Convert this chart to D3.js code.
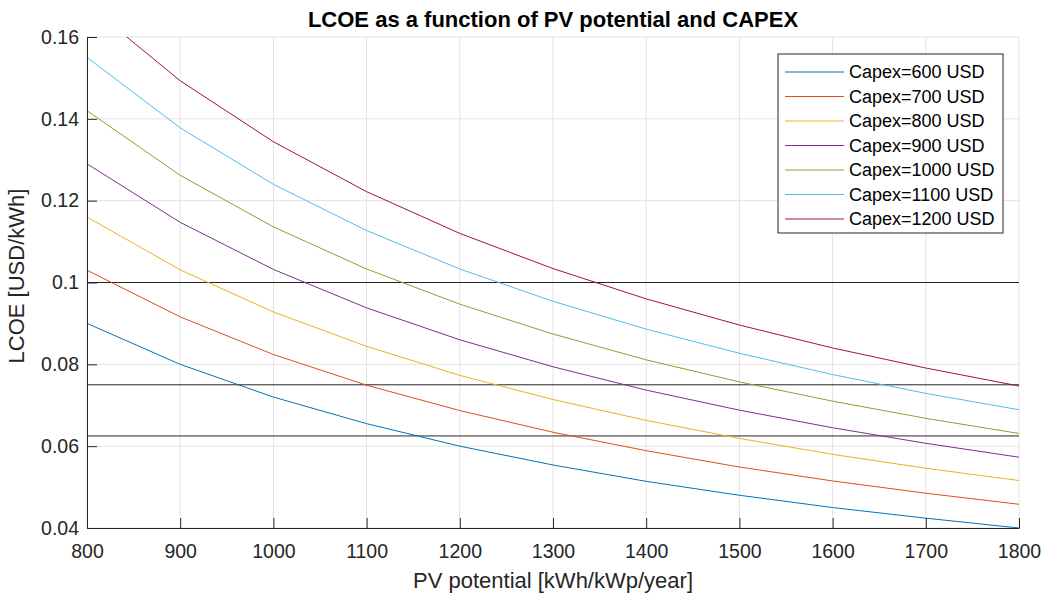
<!DOCTYPE html>
<html>
<head>
<meta charset="utf-8">
<script src="https://cdn.jsdelivr.net/npm/d3@7"></script>
<style>
  body { margin: 0; background: #fff; }
  text { font-family: "Liberation Sans", Arial, Helvetica, sans-serif; }
</style>
</head>
<body>
<div id="chart"></div>
<script>
// PV potential [kWh/kWp/year]
const pvPotential = [800, 900, 1000, 1100, 1200, 1300, 1400, 1500, 1600, 1700, 1800];

// LCOE [USD/kWh] per capex level
const capexLabels = ["Capex=600 USD", "Capex=700 USD", "Capex=800 USD", "Capex=900 USD",
                     "Capex=1000 USD", "Capex=1100 USD", "Capex=1200 USD"];
const lcoe600  = [0.0900, 0.0800, 0.0720, 0.0655, 0.0600, 0.0554, 0.0514, 0.0480, 0.0450, 0.0424, 0.0400];
const lcoe700  = [0.1030, 0.0916, 0.0824, 0.0749, 0.0687, 0.0634, 0.0589, 0.0549, 0.0515, 0.0485, 0.0458];
const lcoe800  = [0.1160, 0.1031, 0.0928, 0.0844, 0.0773, 0.0714, 0.0663, 0.0619, 0.0580, 0.0546, 0.0516];
const lcoe900  = [0.1290, 0.1147, 0.1032, 0.0938, 0.0860, 0.0794, 0.0737, 0.0688, 0.0645, 0.0607, 0.0573];
const lcoe1000 = [0.1420, 0.1262, 0.1136, 0.1033, 0.0947, 0.0874, 0.0811, 0.0757, 0.0710, 0.0668, 0.0631];
const lcoe1100 = [0.1550, 0.1378, 0.1240, 0.1127, 0.1033, 0.0954, 0.0886, 0.0827, 0.0775, 0.0729, 0.0689];
const lcoe1200 = [0.1680, 0.1493, 0.1344, 0.1222, 0.1120, 0.1034, 0.0960, 0.0896, 0.0840, 0.0791, 0.0747];

// reference levels drawn as black horizontal lines
const refLevels = [0.1, 0.075, 0.0625];

const xTicks = [800, 900, 1000, 1100, 1200, 1300, 1400, 1500, 1600, 1700, 1800];
const yTicks = [0.04, 0.06, 0.08, 0.1, 0.12, 0.14, 0.16];

const colors = ["#0072BD", "#D95319", "#EDB120", "#7E2F8E", "#77AC30", "#4DBEEE", "#A2142F"];

const series = [lcoe600, lcoe700, lcoe800, lcoe900, lcoe1000, lcoe1100, lcoe1200];

const W = 1045, H = 594;
const margin = {top: 37, right: 26, bottom: 66, left: 87};
const width = W - margin.left - margin.right;
const height = H - margin.top - margin.bottom;

const svg = d3.select("#chart").append("svg")
    .attr("width", W)
    .attr("height", H);

const g = svg.append("g")
    .attr("transform", "translate(" + margin.left + "," + margin.top + ")");

const xScale = d3.scaleLinear().domain([800, 1800]).range([0, width]);
const yScale = d3.scaleLinear().domain([0.04, 0.16]).range([height, 0]);

// grid
g.append("g").selectAll("line").data(xTicks).join("line")
    .attr("x1", d => xScale(d)).attr("x2", d => xScale(d))
    .attr("y1", 0).attr("y2", height)
    .attr("stroke", "#e3e3e3").attr("stroke-width", 1);
g.append("g").selectAll("line").data(yTicks).join("line")
    .attr("x1", 0).attr("x2", width)
    .attr("y1", d => yScale(d)).attr("y2", d => yScale(d))
    .attr("stroke", "#e3e3e3").attr("stroke-width", 1);

g.append("clipPath").attr("id", "clip")
  .append("rect").attr("width", width).attr("height", height);

const plot = g.append("g").attr("clip-path", "url(#clip)");

// reference lines
plot.selectAll(".ref").data(refLevels).join("line")
    .attr("class", "ref")
    .attr("x1", 0).attr("x2", width)
    .attr("y1", d => yScale(d)).attr("y2", d => yScale(d))
    .attr("stroke", "#262626").attr("stroke-width", 1);

const line = d3.line()
    .x((d, i) => xScale(pvPotential[i]))
    .y(d => yScale(d));

plot.selectAll(".series").data(series).join("path")
    .attr("class", "series")
    .attr("d", line)
    .attr("fill", "none")
    .attr("stroke", (d, i) => colors[i])
    .attr("stroke-width", 1);

// axes
const xAxis = d3.axisBottom(xScale).tickValues(xTicks).tickFormat(d3.format("d"))
    .tickSizeInner(-10).tickSizeOuter(0).tickPadding(12);
const yAxis = d3.axisLeft(yScale).tickValues(yTicks).tickFormat(d => d === 0.1 ? "0.1" : d3.format(".2f")(d))
    .tickSizeInner(-10).tickSizeOuter(0).tickPadding(8);

const xAxisDisplay = g.append("g")
    .attr("transform", `translate(0, ${height})`)
    .call(xAxis);
const yAxisDisplay = g.append("g").call(yAxis);

[xAxisDisplay, yAxisDisplay].forEach(a => {
  a.select(".domain").attr("stroke", "#262626");
  a.selectAll(".tick line").attr("stroke", "#262626");
  a.selectAll(".tick text").attr("fill", "#262626")
    .style("font-size", "19.5px").style("font-family", "'Liberation Sans', Arial, sans-serif");
});
xAxisDisplay.selectAll(".tick text").attr("dy", "0.92em");

// labels
svg.append("text")
    .attr("x", margin.left + width / 2).attr("y", 27)
    .attr("text-anchor", "middle")
    .style("font-size", "22px").style("font-weight", "bold")
    .attr("fill", "#000")
    .text("LCOE as a function of PV potential and CAPEX");

svg.append("text")
    .attr("x", margin.left + width / 2).attr("y", 588)
    .attr("text-anchor", "middle")
    .style("font-size", "22px")
    .attr("fill", "#262626")
    .text("PV potential [kWh/kWp/year]");

svg.append("text")
    .attr("transform", `translate(24, 276) rotate(-90)`)
    .attr("text-anchor", "middle")
    .style("font-size", "22px")
    .attr("fill", "#262626")
    .text("LCOE [USD/kWh]");

// legend
const legend = svg.append("g").attr("transform", "translate(778, 54)");
legend.append("rect")
    .attr("x", 0).attr("y", 0).attr("width", 225).attr("height", 179)
    .attr("fill", "#fff").attr("stroke", "#262626").attr("stroke-width", 1);
const items = legend.selectAll(".item").data(capexLabels).join("g")
    .attr("class", "item")
    .attr("transform", (d, i) => `translate(0, ${18 + i * 24.5})`);
items.append("line")
    .attr("x1", 7).attr("x2", 66)
    .attr("stroke", (d, i) => colors[i]).attr("stroke-width", 1);
items.append("text")
    .attr("x", 71).attr("dy", "0.36em")
    .style("font-size", "18px")
    .attr("fill", "#000")
    .text(d => d);
</script>
</body>
</html>
